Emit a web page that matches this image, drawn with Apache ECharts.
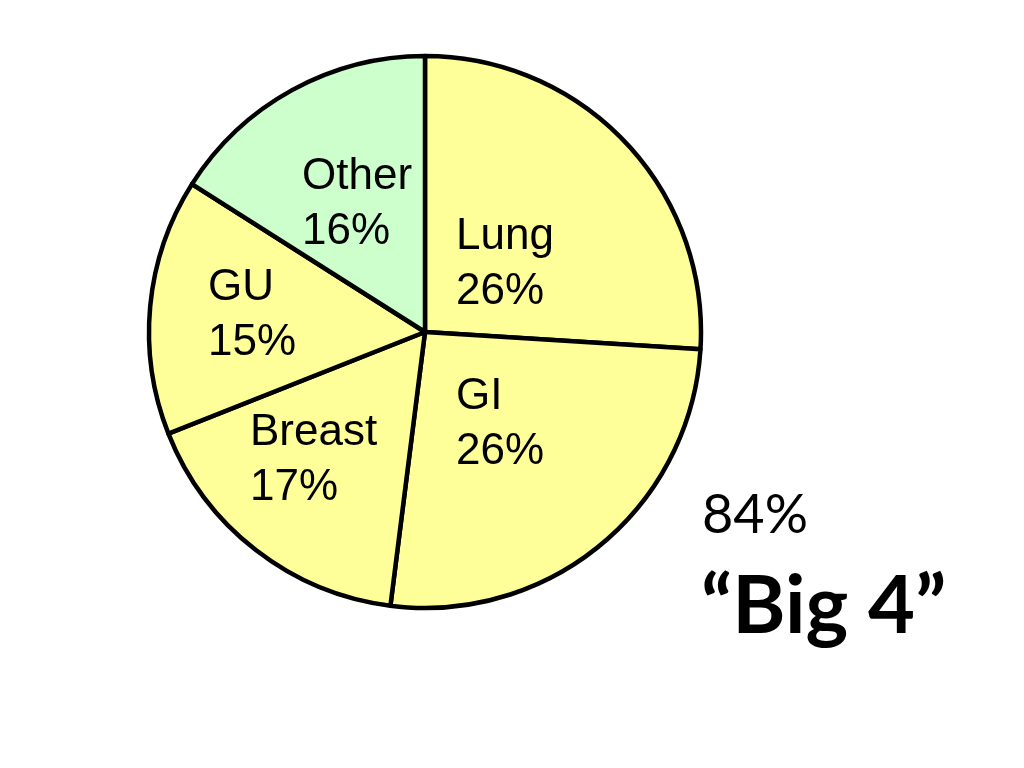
<!DOCTYPE html>
<html>
<head>
<meta charset="utf-8">
<script src="https://cdn.jsdelivr.net/npm/echarts@6/dist/echarts.min.js"></script>
<style>
html,body{margin:0;padding:0;background:#fff;}
#chart{width:1024px;height:768px;}
</style>
</head>
<body>
<div id="chart"></div>
<script>
// Data
var categories = ['Lung', 'GI', 'Breast', 'GU', 'Other'];
var shares = [26, 26, 17, 15, 16];
var sliceColors = ['#FFFF99', '#FFFF99', '#FFFF99', '#FFFF99', '#CCFFCC'];
var bigFourShare = '84%';
var bigFourLabel = '\u201CBig 4\u201D';

// Label anchors (left/top of each label, relative to pie center)
var labelAnchors = [[31, -123], [31, 37], [-175, 73], [-217, -72], [-123, -183]];
var pieCenter = [425, 332];

var chart = echarts.init(document.getElementById('chart'), null, {renderer: 'canvas'});
var data = categories.map(function (c, i) {
  return {name: c, value: shares[i], itemStyle: {color: sliceColors[i]}};
});
chart.setOption({
  animation: false,
  backgroundColor: '#ffffff',
  series: [{
    type: 'pie',
    center: pieCenter,
    radius: 276,
    startAngle: 90,
    clockwise: true,
    data: data,
    emphasis: {disabled: true},
    itemStyle: {borderColor: '#000000', borderWidth: 4.5},
    label: {
      show: true,
      position: 'inside',
      formatter: '{b}\n{c}%',
      fontFamily: 'Liberation Sans, Arial, sans-serif',
      fontSize: 44,
      lineHeight: 55,
      color: '#000000'
    },
    labelLine: {show: false},
    labelLayout: function (params) {
      var a = labelAnchors[params.dataIndex];
      return {x: pieCenter[0] + a[0], y: pieCenter[1] + a[1], align: 'left', verticalAlign: 'top'};
    }
  }],
  graphic: [
    {type: 'text', left: 702, top: 489, style: {text: bigFourShare, font: '54px Lato, "Open Sans", sans-serif', fill: '#000'}},
    {type: 'text', left: 701, top: 566, style: {text: bigFourLabel, font: 'bold 81px Lato, "Open Sans", sans-serif', fill: '#000'}}
  ]
});
</script>
</body>
</html>
